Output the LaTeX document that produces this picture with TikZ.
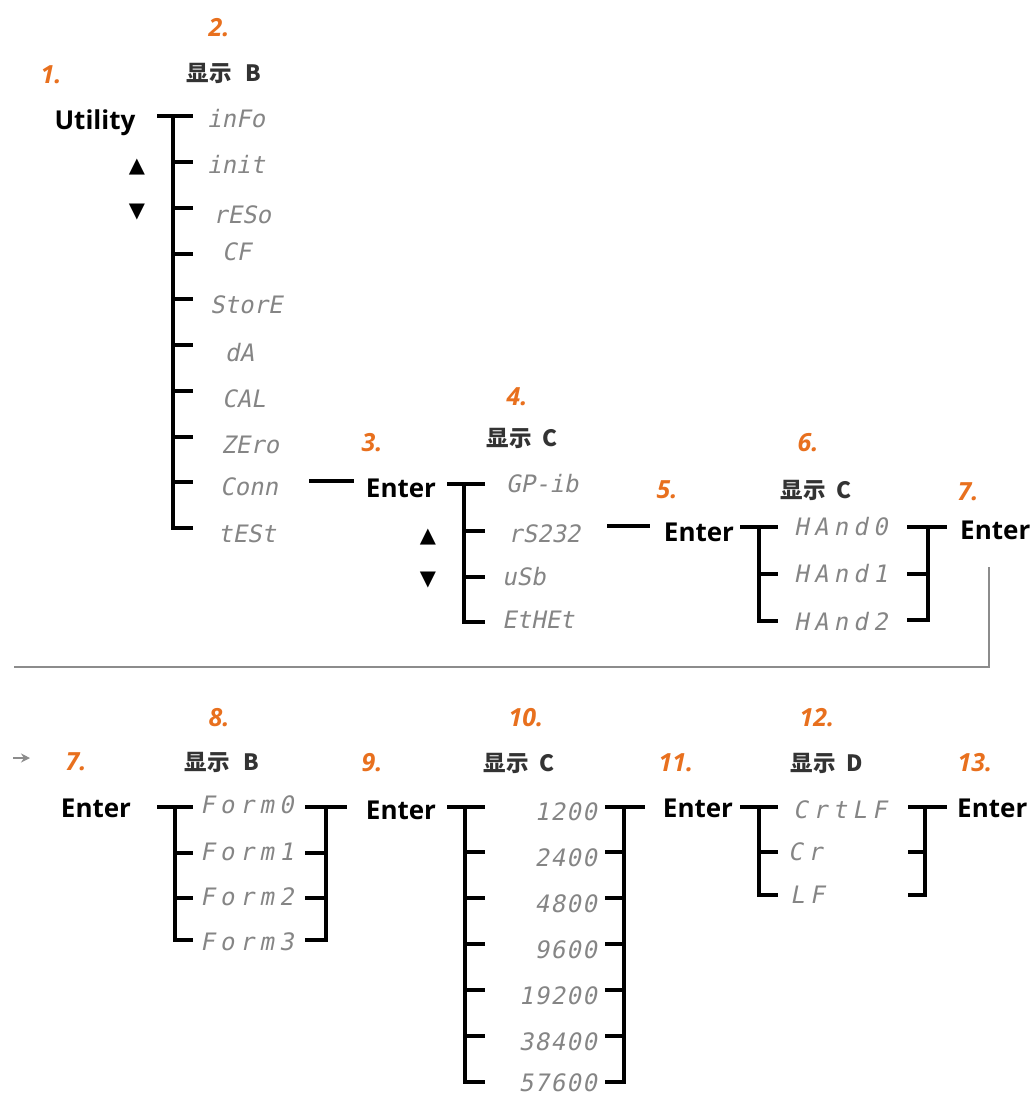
\documentclass[tikz,border=0pt]{standalone}
\usepackage{fontspec}
\setmainfont{Open Sans}
\newfontfamily\cjk{Noto Sans CJK SC}
\newfontfamily\segfont{DejaVu Sans Mono}[FakeSlant=0.2]
\newfontfamily\symfont{DejaVu Sans}
\usetikzlibrary{arrows.meta}
\definecolor{numorange}{HTML}{E8701E}
\definecolor{seggray}{HTML}{858585}
\definecolor{linkgray}{HTML}{8C8C8C}
\begin{document}
\begin{tikzpicture}[x=1pt,y=-1pt,
  key/.style={font=\fontsize{26}{28}\selectfont\bfseries, text=black, inner sep=0pt},
  num/.style={font=\fontsize{25}{27}\selectfont\bfseries\itshape, text=numorange, inner sep=0pt},
  disp/.style={font=\cjk\bfseries\fontsize{22.5}{24}\selectfont, text=black!80, inner sep=0pt},
  seg/.style={font=\segfont\fontsize{24}{26}\selectfont, text=seggray, inner sep=0pt, anchor=base west},
  wideseg/.style={font=\segfont\fontsize{24}{26}\selectfont\addfontfeature{LetterSpace=22}, text=seggray, inner sep=0pt, anchor=base west},
  baud/.style={font=\segfont\fontsize{24}{26}\selectfont\addfontfeature{LetterSpace=6}, text=seggray, inner sep=0pt, anchor=base east},
  symb/.style={font=\symfont\fontsize{21}{23}\selectfont, text=black, inner sep=0pt},
  ln/.style={line width=3.1pt, line join=miter},
  glink/.style={line width=2.6pt, draw=linkgray}]
\useasboundingbox (0,0) rectangle (1035,1097);

% ---------------- top row ----------------
\node[num] (n1) at (51,75) {1.};
\node[num] (n2) at (219,28) {2.};
\node[disp] (d2) at (224,73) {显示 \hspace{0.4em}B};
\node[key] (utility) at (95,123) {Utility};
\node[symb] (up1) at (137,167) {▲};
\node[symb] (dn1) at (137,212) {▼};

\coordinate (u1) at (157,116);
\coordinate (t1top) at (173,116);
\coordinate (t1bot) at (173,528);
\draw[ln] (u1) -- (193,116);
\draw[ln] (t1top) -- (t1bot) -- (193,528);
\foreach \y in {162,208,254,299,345,391,437,482}{\draw[ln] (173,\y) -- (193,\y);}

\node[seg] (info) at (207,128) {inFo};
\node[seg] (init) at (207,173) {init};
\node[seg] (reso) at (213,223) {rESo};
\node[seg] (cf) at (222,260) {CF};
\node[seg] (store) at (210,313) {StorE};
\node[seg] (da) at (225,361) {dA};
\node[seg] (cal) at (222,407) {CAL};
\node[seg] (zero) at (221,453) {ZEro};
\node[seg] (conn) at (220,495) {Conn};
\node[seg] (test) at (218,542) {tESt};

\coordinate (c1) at (309,481);
\coordinate (c2) at (354,481);
\draw[ln] (c1) -- (c2);

\node[num] (n3) at (372,443) {3.};
\node[key] (enter3) at (401,488) {Enter};
\node[num] (n4) at (517,397) {4.};
\node[disp] (d4) at (522,438) {显示 \hspace{0.25em}C};
\node[symb] (up2) at (428,537) {▲};
\node[symb] (dn2) at (428,580) {▼};

\draw[ln] (447,484) -- (485,484);
\draw[ln] (464,484) -- (464,622) -- (485,622);
\foreach \y in {531,577}{\draw[ln] (464,\y) -- (485,\y);}

\node[seg] (gpib) at (506,492) {GP-ib};
\node[seg] (rs232) at (508,542) {rS232};
\node[seg] (usb) at (502,585) {uSb};
\node[seg] (ethet) at (502,628) {EtHEt};

\coordinate (r1) at (607,526);
\coordinate (r2) at (650,526);
\draw[ln] (r1) -- (r2);

\node[num] (n5) at (667,490) {5.};
\node[key] (enter5) at (699,532) {Enter};
\node[num] (n6) at (808,443) {6.};
\node[disp] (d6) at (816,490) {显示 \hspace{0.25em}C};

\draw[ln] (740,527) -- (778,527);
\draw[ln] (759,527) -- (759,621) -- (778,621);
\draw[ln] (759,574) -- (778,574);

\node[wideseg] (hand0) at (794,535) {HAnd0};
\node[wideseg] (hand1) at (794,582) {HAnd1};
\node[wideseg] (hand2) at (794,630) {HAnd2};

\draw[ln] (907,527) -- (947,527);
\draw[ln] (928,527) -- (928,620) -- (907,620);
\draw[ln] (907,574) -- (928,574);

\node[num] (n7a) at (968,492) {7.};
\node[key, anchor=west] (enter7a) at (960,530) {Enter};

% gray link to the second row
\coordinate (g1) at (989,567);
\coordinate (g2) at (989,667);
\coordinate (g3) at (14,667);
\draw[glink] (g1) -- (g2) -- (g3);
\coordinate (a1) at (13,758);
\coordinate (a2) at (30,758);
\draw[draw=linkgray, line width=1.2pt, -{Stealth[length=9pt,width=9pt]}] (a1) -- (a2);

% ---------------- bottom row ----------------
\node[num] (n7b) at (76,762) {7.};
\node[key] (enter7b) at (96,808) {Enter};
\node[num] (n8) at (219,718) {8.};
\node[disp] (d8) at (222,762) {显示 \hspace{0.4em}B};

\draw[ln] (157,807) -- (193,807);
\draw[ln] (175,807) -- (175,940) -- (193,940);
\foreach \y in {853,898}{\draw[ln] (175,\y) -- (193,\y);}

\node[wideseg] (form0) at (200,813) {Form0};
\node[wideseg] (form1) at (200,860) {Form1};
\node[wideseg] (form2) at (200,905) {Form2};
\node[wideseg] (form3) at (200,950) {Form3};

\draw[ln] (305,807) -- (347,807);
\draw[ln] (326,807) -- (326,940) -- (305,940);
\foreach \y in {853,898}{\draw[ln] (305,\y) -- (326,\y);}

\node[num] (n9) at (372,763) {9.};
\node[key] (enter9) at (401,810) {Enter};
\node[num] (n10) at (526,718) {10.};
\node[disp] (d10) at (519,763) {显示 \hspace{0.25em}C};

\draw[ln] (447,807) -- (485,807);
\draw[ln] (465,807) -- (465,1082) -- (485,1082);
\foreach \y in {852,898,944,990,1036}{\draw[ln] (465,\y) -- (485,\y);}

\node[baud] (b1200) at (597,820) {1200};
\node[baud] (b2400) at (597,866) {2400};
\node[baud] (b4800) at (597,912) {4800};
\node[baud] (b9600) at (597,958) {9600};
\node[baud] (b19200) at (597,1004) {19200};
\node[baud] (b38400) at (597,1050) {38400};
\node[baud] (b57600) at (597,1091) {57600};

\draw[ln] (605,807) -- (645,807);
\draw[ln] (624,807) -- (624,1082) -- (605,1082);
\foreach \y in {852,898,944,990,1036}{\draw[ln] (605,\y) -- (624,\y);}

\node[num] (n11) at (676,763) {11.};
\node[key] (enter11) at (698,808) {Enter};
\node[num] (n12) at (817,718) {12.};
\node[disp] (d12) at (827,763) {显示 \hspace{0.25em}D};

\draw[ln] (740,807) -- (778,807);
\draw[ln] (759,807) -- (759,895) -- (778,895);
\draw[ln] (759,852) -- (778,852);

\node[wideseg] (crlf) at (793,818) {CrtLF};
\node[wideseg] (cr) at (788,860) {Cr};
\node[wideseg] (lf) at (790,903) {LF};

\draw[ln] (908,807) -- (947,807);
\draw[ln] (925,807) -- (925,895) -- (908,895);
\draw[ln] (908,852) -- (925,852);

\node[num] (n13) at (975,763) {13.};
\node[key, anchor=west] (enter13) at (957,808) {Enter};
\end{tikzpicture}
\end{document}
